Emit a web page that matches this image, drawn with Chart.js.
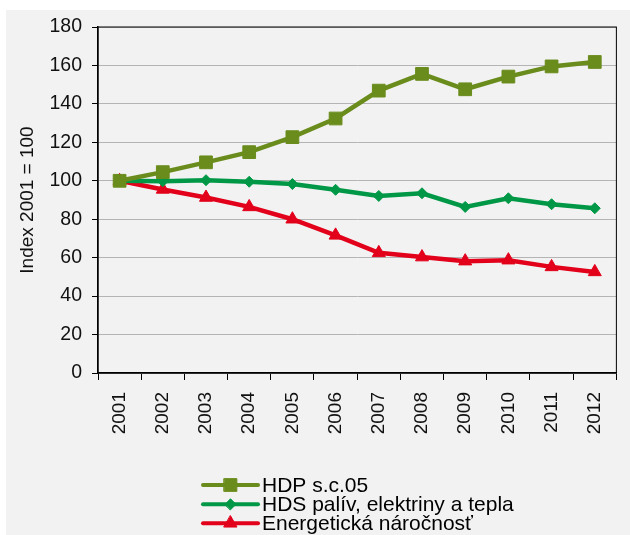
<!DOCTYPE html>
<html>
<head>
<meta charset="utf-8">
<script src="https://cdn.jsdelivr.net/npm/chart.js@4/dist/chart.umd.min.js"></script>
<style>
  html, body { margin: 0; padding: 0; background: #fff; }
  #wrap { position: absolute; left: 6px; top: 10px; width: 624px; height: 525px; background: #f2f2f2; }
</style>
</head>
<body>
<div id="wrap"><canvas id="chart"></canvas></div>
<script>
"use strict";

// Index values, 2001 = 100
const years = ['2001', '2002', '2003', '2004', '2005', '2006', '2007', '2008', '2009', '2010', '2011', '2012'];
const hdp = [100, 104.5, 109.6, 114.9, 122.7, 132.4, 146.9, 155.6, 147.6, 154.2, 159.5, 161.8];
const hds = [100, 99.8, 100.3, 99.5, 98.3, 95.3, 92.1, 93.5, 86.4, 90.9, 87.8, 85.7];
const energy = [100, 95.5, 91.3, 86.4, 80.0, 71.6, 62.5, 60.3, 58.2, 58.7, 55.2, 52.6];
const yTicks = [0, 20, 40, 60, 80, 100, 120, 140, 160, 180];

const FONT = "'Liberation Sans', Arial, sans-serif";

function series(label, data, color, style, radius) {
  return {
    label: label,
    data: data,
    borderColor: color,
    backgroundColor: color,
    borderWidth: 4.5,
    pointStyle: style,
    pointRadius: radius,
    pointBorderWidth: 1,
    pointBackgroundColor: color,
    pointBorderColor: color,
    tension: 0
  };
}

// black frame round the plot area
const frame = {
  id: 'frame',
  beforeDatasetsDraw(chart) {
    const a = chart.chartArea;
    const ctx = chart.ctx;
    ctx.save();
    ctx.strokeStyle = '#000';
    ctx.lineWidth = 1;
    ctx.strokeRect(a.left, a.top, a.right - a.left, a.bottom - a.top);
    ctx.restore();
  }
};

// stacked legend under the axis labels
const stackedLegend = {
  id: 'stackedLegend',
  afterDraw(chart) {
    const ctx = chart.ctx;
    const x0 = 197, x1 = 252, textX = 256;
    const rows = [475, 494.3, 513.3];
    ctx.save();
    chart.data.datasets.forEach(function(ds, i) {
      const y = rows[i];
      ctx.strokeStyle = ds.borderColor;
      ctx.lineWidth = 4;
      ctx.lineCap = 'round';
      ctx.beginPath();
      ctx.moveTo(x0, y);
      ctx.lineTo(x1, y);
      ctx.stroke();
      ctx.fillStyle = ds.borderColor;
      ctx.strokeStyle = ds.borderColor;
      ctx.lineWidth = 1;
      Chart.helpers.drawPoint(ctx, {
        pointStyle: ds.pointStyle,
        radius: ds.pointRadius,
        borderWidth: 1,
        rotation: 0
      }, (x0 + x1) / 2, y);
      ctx.fillStyle = '#000';
      ctx.font = '21px ' + FONT;
      ctx.textBaseline = 'middle';
      ctx.textAlign = 'left';
      ctx.fillText(ds.label, textX, y + 1);
    });
    ctx.restore();
  }
};

new Chart(document.getElementById('chart'), {
  type: 'line',
  data: {
    labels: years,
    datasets: [
      series('HDP s.c.05', hdp, '#6a8c1c', 'rect', 9),
      series('HDS palív, elektriny a tepla', hds, '#009846', 'rectRot', 5.5),
      series('Energetická náročnosť', energy, '#e2001a', 'triangle', 7.5)
    ]
  },
  options: {
    responsive: true,
    maintainAspectRatio: false,
    animation: false,
    layout: { padding: { left: 0, top: 17, right: 2, bottom: 82 } },
    plugins: {
      legend: { display: false },
      tooltip: { enabled: false }
    },
    scales: {
      x: {
        offset: true,
        grid: {
          offset: true,
          drawOnChartArea: false,
          tickLength: 7,
          tickColor: '#000'
        },
        border: { color: '#000', width: 1.5 },
        ticks: {
          minRotation: 90,
          maxRotation: 90,
          padding: 12,
          color: '#111',
          font: { family: FONT, size: 19 }
        },
        afterFit(scale) { scale.height = 80; }
      },
      y: {
        min: 0,
        max: 180,
        afterBuildTicks(scale) { scale.ticks = yTicks.map(v => ({ value: v })); },
        grid: {
          color: '#b4b4b4',
          tickLength: 6,
          tickColor: '#000'
        },
        border: { color: '#000', width: 1.5 },
        ticks: {
          padding: 10,
          color: '#111',
          font: { family: FONT, size: 19.5 }
        },
        title: {
          display: true,
          text: 'Index 2001 = 100',
          color: '#111',
          padding: { top: 10, bottom: 0 },
          font: { family: FONT, size: 19 }
        },
        afterFit(scale) {
          scale.width = 92;
          scale.paddingTop = 0;
          scale.paddingBottom = 0;
        }
      }
    }
  },
  plugins: [frame, stackedLegend]
});
</script>
</body>
</html>
